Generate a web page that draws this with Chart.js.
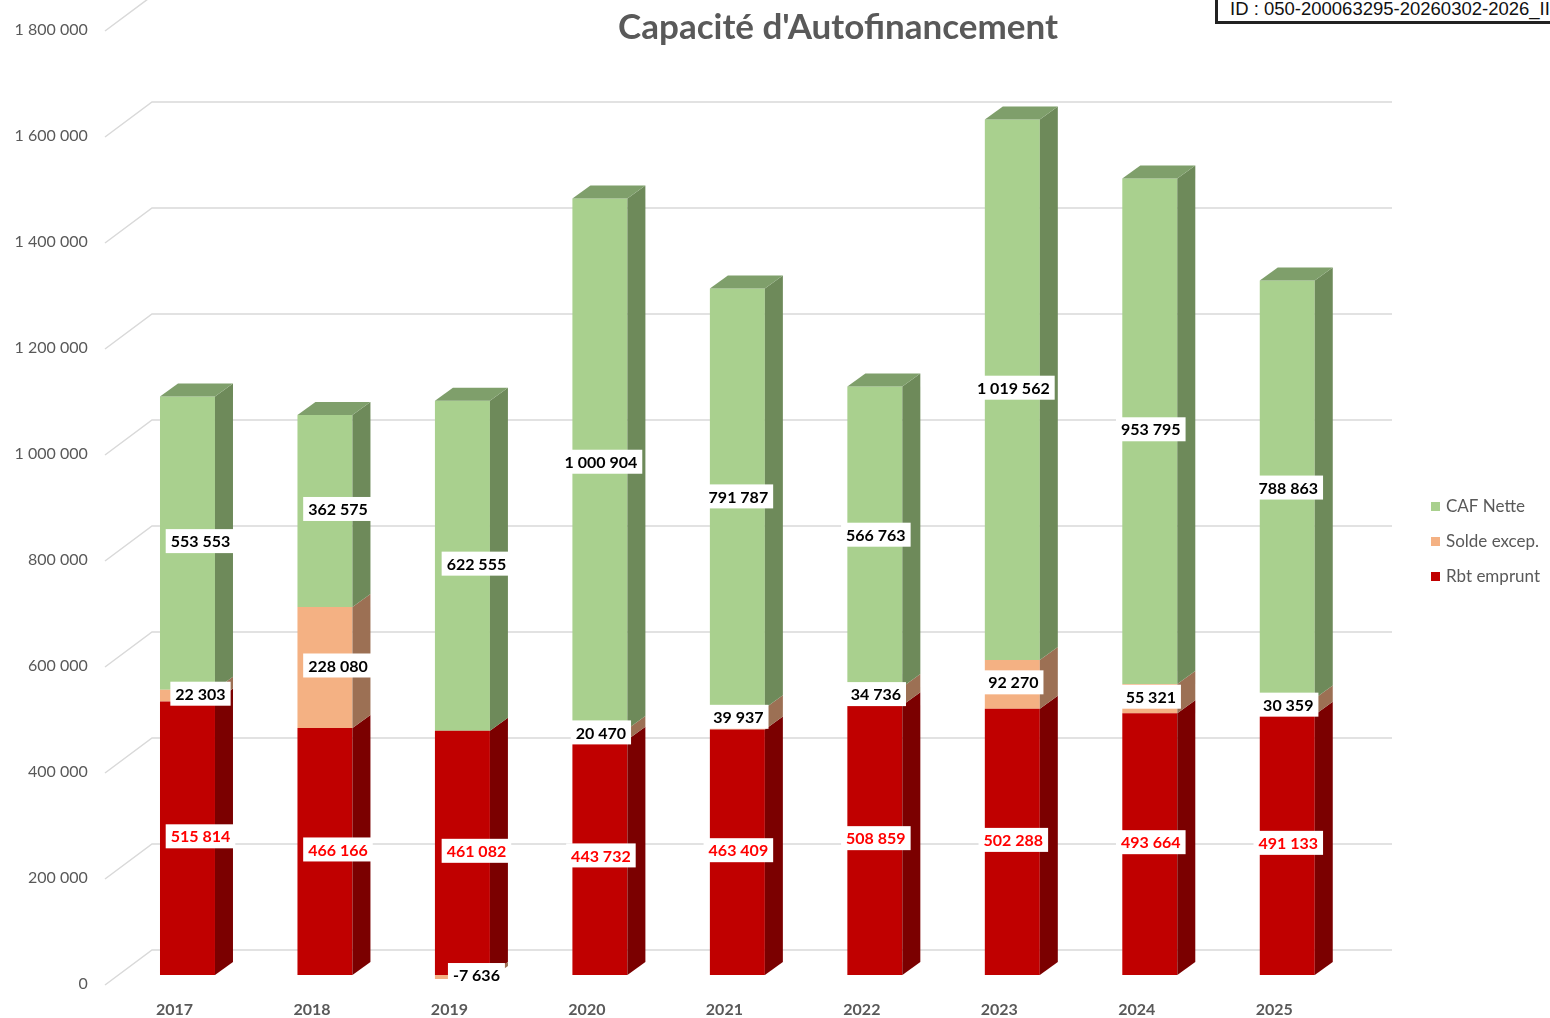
<!DOCTYPE html>
<html lang="fr">
<head>
<meta charset="utf-8">
<title>Capacité d'Autofinancement</title>
<script src="https://cdn.jsdelivr.net/npm/chart.js@4/dist/chart.umd.min.js"></script>
<style>
  html, body { margin: 0; padding: 0; background: #fff; overflow: hidden; }
  #wrap { position: relative; width: 1550px; height: 1018px; }
  #idbox {
    position: absolute; left: 1215px; top: -14px;
    height: 21px; padding: 11px 0 0 12px; width: 400px;
    border: 3px solid #222; background: #fff;
    font: 18.5px "Liberation Sans", Arial, sans-serif; line-height: 18px; color: #111;
    white-space: nowrap;
  }
</style>
</head>
<body>
<div id="wrap">
  <canvas id="caf-chart" width="1550" height="1018"></canvas>
  <div id="idbox">ID : 050-200063295-20260302-2026_II</div>
</div>
<script>
// Data
const years = ['2017', '2018', '2019', '2020', '2021', '2022', '2023', '2024', '2025'];
const rbtEmprunt = [515814, 466166, 461082, 443732, 463409, 508859, 502288, 493664, 491133];
const soldeExcep = [22303, 228080, -7636, 20470, 39937, 34736, 92270, 55321, 30359];
const cafNette = [553553, 362575, 622555, 1000904, 791787, 566763, 1019562, 953795, 788863];
const yTicks = [0, 200000, 400000, 600000, 800000, 1000000, 1200000, 1400000, 1600000, 1800000];

const GREY = '#595959';
const DEPTH_X = 18, DEPTH_Y = -13;
// the first three years have their labels pushed to the right in the original
const labelNudge = [13, 13, 14, 1, 1, 1, 1, 1, 1];

function fmt(v) {
    const s = String(Math.abs(Math.round(v))).replace(/\B(?=(\d{3})+(?!\d))/g, ' ');
    return (v < 0 ? '-' : '') + s;
}

// back wall grid, with the oblique lines running from the labels
const wallGrid = {
    id: 'wallGrid',
    beforeDatasetsDraw(chart) {
        const ctx = chart.ctx;
        const y = chart.scales.y;
        ctx.save();
        ctx.strokeStyle = '#d9d9d9';
        ctx.lineWidth = 1.5;
        yTicks.forEach(v => {
            const py = y.getPixelForValue(v);
            ctx.beginPath();
            ctx.moveTo(105, py + 10);
            ctx.lineTo(152, py - 25);
            ctx.lineTo(1392, py - 25);
            ctx.stroke();
        });
        ctx.restore();
    }
};

// side and top faces of the bars, then the value labels
const bars3d = {
    id: 'bars3d',
    afterDatasetsDraw(chart) {
        const ctx = chart.ctx;
        const last = chart.data.datasets.length - 1;
        ctx.save();
        chart.data.datasets.forEach((ds, di) => {
            const meta = chart.getDatasetMeta(di);
            meta.data.forEach(bar => {
                const p = bar.getProps(['x', 'y', 'base', 'width'], true);
                const right = p.x + p.width / 2;
                const left = p.x - p.width / 2;
                const top = Math.min(p.y, p.base);
                const bottom = Math.max(p.y, p.base);
                ctx.fillStyle = ds.sideColor;
                ctx.beginPath();
                ctx.moveTo(right, top);
                ctx.lineTo(right + DEPTH_X, top + DEPTH_Y);
                ctx.lineTo(right + DEPTH_X, bottom + DEPTH_Y);
                ctx.lineTo(right, bottom);
                ctx.closePath();
                ctx.fill();
                if (di === last) {
                    ctx.fillStyle = ds.topColor;
                    ctx.beginPath();
                    ctx.moveTo(left, top);
                    ctx.lineTo(left + DEPTH_X, top + DEPTH_Y);
                    ctx.lineTo(right + DEPTH_X, top + DEPTH_Y);
                    ctx.lineTo(right, top);
                    ctx.closePath();
                    ctx.fill();
                }
            });
        });

        // value labels in white boxes
        ctx.font = 'bold 16px Lato, sans-serif';
        ctx.textAlign = 'center';
        ctx.textBaseline = 'middle';
        chart.data.datasets.forEach((ds, di) => {
            const meta = chart.getDatasetMeta(di);
            meta.data.forEach((bar, i) => {
                const p = bar.getProps(['x', 'y', 'base'], true);
                const text = fmt(ds.data[i]);
                const cx = p.x + labelNudge[i];
                const cy = (p.y + p.base) / 2 - 2;
                const w = ctx.measureText(text).width + 10;
                ctx.fillStyle = '#fff';
                ctx.fillRect(cx - w / 2, cy - 12, w, 24);
                ctx.fillStyle = ds.labelColor;
                ctx.fillText(text, cx, cy + 1);
            });
        });
        ctx.restore();
    }
};

// title and legend on the right
const decorations = {
    id: 'decorations',
    afterDraw(chart) {
        const ctx = chart.ctx;
        ctx.save();
        ctx.fillStyle = GREY;
        ctx.font = 'bold 35px Lato, sans-serif';
        ctx.textAlign = 'center';
        ctx.textBaseline = 'middle';
        ctx.fillText("Capacité d'Autofinancement", 838, 28);

        const items = [2, 1, 0];
        ctx.font = '17px Lato, sans-serif';
        ctx.textAlign = 'left';
        items.forEach((di, k) => {
            const ds = chart.data.datasets[di];
            const cy = 507 + k * 35;
            ctx.fillStyle = ds.backgroundColor;
            ctx.fillRect(1431, cy - 5, 9, 9);
            ctx.fillStyle = GREY;
            ctx.fillText(ds.label, 1446, cy);
        });
        ctx.restore();
    }
};

const ctx = document.getElementById('caf-chart');
new Chart(ctx, {
    type: 'bar',
    data: {
        labels: years,
        datasets: [
            {
                label: 'Rbt emprunt',
                data: rbtEmprunt,
                backgroundColor: '#c00000',
                sideColor: '#7b0000',
                topColor: '#9a0000',
                labelColor: '#ff0000'
            },
            {
                label: 'Solde excep.',
                data: soldeExcep,
                backgroundColor: '#f4b183',
                sideColor: '#9c7054',
                topColor: '#c98f68',
                labelColor: '#000000'
            },
            {
                label: 'CAF Nette',
                data: cafNette,
                backgroundColor: '#a9d08e',
                sideColor: '#6e8a5a',
                topColor: '#7f9f6b',
                labelColor: '#000000'
            }
        ]
    },
    options: {
        responsive: false,
        animation: false,
        clip: false,
        layout: {
            padding: { left: 0, right: 194, top: 21, bottom: 0 }
        },
        datasets: {
            bar: {
                barPercentage: 0.4,
                categoryPercentage: 1,
                borderWidth: 0,
                clip: false
            }
        },
        plugins: {
            legend: { display: false },
            title: { display: false },
            tooltip: { enabled: false }
        },
        scales: {
            x: {
                stacked: true,
                grid: { display: false },
                border: { display: false },
                ticks: {
                    color: GREY,
                    font: { family: 'Lato', size: 16, weight: 'bold' },
                    labelOffset: -13,
                    padding: 17
                },
                afterFit: scale => {
                    scale.height = 43;
                    scale.paddingLeft = 0;
                    scale.paddingRight = 0;
                }
            },
            y: {
                stacked: true,
                min: 0,
                max: 1800000,
                grid: { display: false },
                border: { display: false },
                afterBuildTicks: scale => {
                    scale.ticks = yTicks.map(v => ({ value: v }));
                },
                ticks: {
                    color: GREY,
                    font: { family: 'Lato', size: 16 },
                    labelOffset: 9,
                    padding: 23,
                    callback: v => fmt(v)
                },
                afterFit: scale => {
                    scale.width = 118.75;
                    scale.paddingTop = 0;
                    scale.paddingBottom = 0;
                }
            }
        }
    },
    plugins: [wallGrid, bars3d, decorations]
});
</script>
</body>
</html>
